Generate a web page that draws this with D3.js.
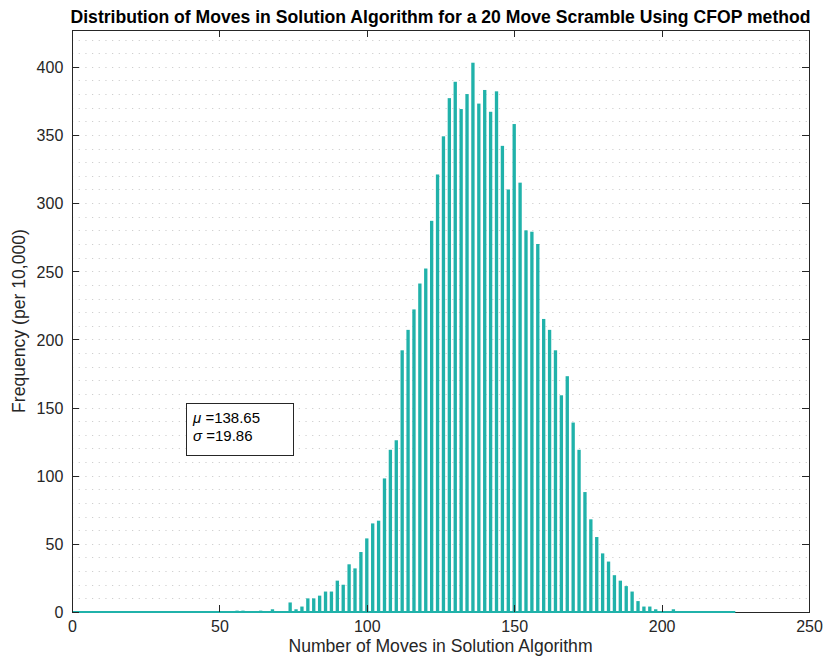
<!DOCTYPE html>
<html>
<head>
<meta charset="utf-8">
<script src="https://cdn.jsdelivr.net/npm/d3@7"></script>
<style>
  html, body { margin: 0; padding: 0; background: #ffffff; }
  svg { display: block; font-family: "Liberation Sans", Arial, Helvetica, sans-serif; }
</style>
</head>
<body>
<svg id="chart" width="825" height="658"></svg>
<script>
// Histogram of solution lengths (bins 2 moves apart), frequency per 10,000 solves
const moves  = [56, 58, 64, 68, 74, 76, 78, 80, 82, 84, 86, 88, 90, 92, 94, 96, 98,
                100, 102, 104, 106, 108, 110, 112, 114, 116, 118, 120, 122, 124, 126, 128,
                130, 132, 134, 136, 138, 140, 142, 144, 146, 148, 150, 152, 154, 156, 158,
                160, 162, 164, 166, 168, 170, 172, 174, 176, 178, 180, 182, 184, 186, 188,
                190, 192, 194, 196, 198, 204];
const counts = [1, 1, 1, 2, 7, 2, 4, 10, 10, 12, 15, 15, 23, 20, 35, 32, 44,
                54, 65, 67, 98, 119, 126, 192, 207, 222, 241, 252, 287, 321, 349, 377,
                389, 369, 380, 403, 373, 383, 367, 382, 342, 310, 358, 315, 280, 279, 270,
                215, 207, 192, 159, 173, 139, 119, 88, 68, 55, 43, 37, 27, 23, 19,
                15, 8, 4, 4, 2, 2];
// full span of the histogram bins (empty bins included)
const binSpan = [0, 225];

const xTicks = [0, 50, 100, 150, 200, 250];
const yTicks = [0, 50, 100, 150, 200, 250, 300, 350, 400];
const yGrid  = d3.range(0, 430, 10);

const statLabels = [
  { sym: "\u03BC", text: " =138.65" },
  { sym: "\u03C3", text: " =19.86" }
];

const title  = "Distribution of Moves in Solution Algorithm for a 20 Move Scramble Using CFOP method";
const xTitle = "Number of Moves in Solution Algorithm";
const yTitle = "Frequency (per 10,000)";

// layout
const L = 72, R = 809, T = 30, B = 612;
const AXIS = "#262626";
const BAR  = "#20b2aa";
const BAR_W = 1.13; // bar width in move units

const svg = d3.select("#chart");

const x = d3.scaleLinear().domain([0, 250]).range([L, R]);
const y = d3.scaleLinear().domain([0, 427]).range([B, T]);

// dotted horizontal grid
svg.append("g")
  .selectAll("line")
  .data(yGrid)
  .join("line")
    .attr("x1", L).attr("x2", R)
    .attr("y1", d => Math.round(y(d)) + 0.5)
    .attr("y2", d => Math.round(y(d)) + 0.5)
    .attr("stroke", "#cfcfcf")
    .attr("stroke-width", 1)
    .attr("stroke-dasharray", "1.2,5.47");

// bars
svg.append("g")
  .selectAll("rect")
  .data(moves.map((m, i) => ({ m, c: counts[i] })))
  .join("rect")
    .attr("x", d => x(d.m - BAR_W / 2))
    .attr("width", d => x(d.m + BAR_W / 2) - x(d.m - BAR_W / 2))
    .attr("y", d => y(d.c))
    .attr("height", d => y(0) - y(d.c))
    .attr("fill", BAR);

// box frame
svg.append("rect")
  .attr("x", L + 0.5).attr("y", T + 0.5)
  .attr("width", R - L).attr("height", B - T)
  .attr("fill", "none")
  .attr("stroke", AXIS)
  .attr("stroke-width", 1)
  .attr("shape-rendering", "crispEdges");

// histogram baseline over the bin span
svg.append("line")
  .attr("x1", x(binSpan[0])).attr("x2", x(binSpan[1]))
  .attr("y1", y(0)).attr("y2", y(0))
  .attr("stroke", BAR)
  .attr("stroke-width", 2);

const tickFont = 16;

// bottom axis
const gx = svg.append("g")
  .attr("transform", `translate(0,${B})`)
  .call(d3.axisBottom(x).tickValues(xTicks).tickFormat(d3.format("d"))
        .tickSizeInner(-7).tickSizeOuter(0).tickPadding(9));
// top axis ticks
const gxt = svg.append("g")
  .attr("transform", `translate(0,${T})`)
  .call(d3.axisTop(x).tickValues(xTicks).tickFormat("")
        .tickSizeInner(-7).tickSizeOuter(0));
// left axis
const gy = svg.append("g")
  .attr("transform", `translate(${L},0)`)
  .call(d3.axisLeft(y).tickValues(yTicks).tickFormat(d3.format("d"))
        .tickSizeInner(-7).tickSizeOuter(0).tickPadding(8.7));
// right axis ticks
const gyr = svg.append("g")
  .attr("transform", `translate(${R},0)`)
  .call(d3.axisRight(y).tickValues(yTicks).tickFormat("")
        .tickSizeInner(-7).tickSizeOuter(0));

[gx, gxt, gy, gyr].forEach(g => {
  g.select(".domain").remove();
  g.selectAll(".tick line").attr("stroke", AXIS).attr("shape-rendering", "crispEdges");
  g.selectAll(".tick text")
    .attr("fill", AXIS)
    .attr("font-size", tickFont)
    .attr("font-family", "'Liberation Sans', Arial, Helvetica, sans-serif");
});
gy.selectAll(".tick text").attr("dy", "0.36em");

// titles
svg.append("text")
  .attr("x", (L + R) / 2).attr("y", 22.7)
  .attr("text-anchor", "middle")
  .attr("font-size", 17.6).attr("font-weight", "bold")
  .attr("fill", "#000")
  .text(title);

svg.append("text")
  .attr("x", (L + R) / 2).attr("y", 652.3)
  .attr("text-anchor", "middle")
  .attr("font-size", 17.6)
  .attr("fill", AXIS)
  .text(xTitle);

svg.append("text")
  .attr("transform", `translate(25,${(T + B) / 2}) rotate(-90)`)
  .attr("text-anchor", "middle")
  .attr("font-size", 17.6)
  .attr("fill", AXIS)
  .text(yTitle);

// statistics box
const box = svg.append("g");
box.append("rect")
  .attr("x", 186.5).attr("y", 403.5)
  .attr("width", 107).attr("height", 52)
  .attr("fill", "#fff")
  .attr("stroke", AXIS)
  .attr("shape-rendering", "crispEdges");
const st = box.append("text")
  .attr("font-size", 15)
  .attr("fill", "#000");
statLabels.forEach((s, i) => {
  const line = st.append("tspan")
    .attr("x", 193)
    .attr("y", 423 + i * 18);
  line.append("tspan").attr("font-style", "italic").text(s.sym);
  line.append("tspan").text(s.text);
});
</script>
</body>
</html>
